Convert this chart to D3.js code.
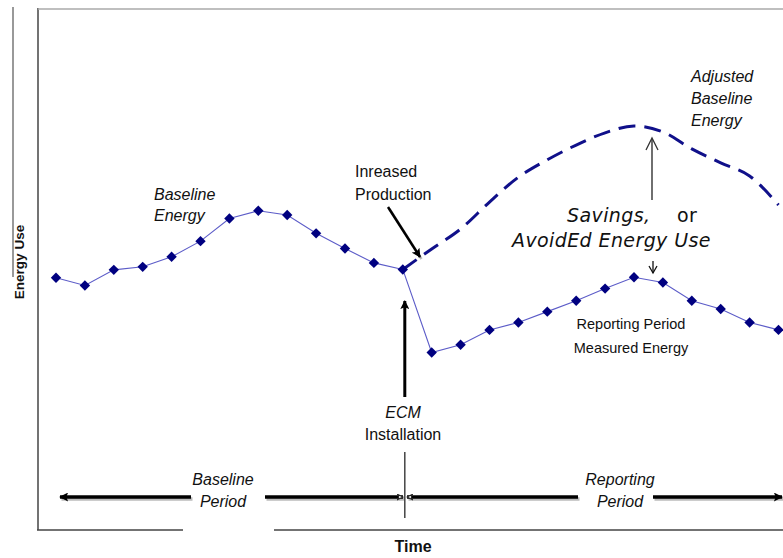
<!DOCTYPE html>
<html lang="en">
<head>
  <meta charset="UTF-8">
  <title>Baseline vs Reporting Period Energy</title>
  <script src="https://d3js.org/d3.v7.min.js"></script>
  <style>
    body { margin: 0; background: #fff; }
    text { font-family: "Liberation Sans", Arial, sans-serif; fill: #111; }
    .it { font-style: italic; }
    .dv { font-family: "DejaVu Sans", Verdana, sans-serif; font-size: 19px; letter-spacing: 0.4px; }
    .frame { stroke: #444; stroke-width: 1.5px; fill: none; }
    .measured { stroke: #5c5cc8; stroke-width: 1.1px; fill: none; }
    .adjusted { stroke: #10108a; stroke-width: 3px; fill: none; stroke-dasharray: 17,9; }
    .pt { fill: #000080; }
    .arrow { stroke: #000; fill: none; }
  </style>
</head>
<body>
  <script>
    // time steps (months) and energy use
    const baselineTime = [0, 1, 2, 3, 4, 5, 6, 7, 8, 9, 10, 11, 12];
    const baselineEnergy = [58.0, 56.2, 59.8, 60.5, 62.8, 66.4, 71.6, 73.4, 72.4, 68.2, 64.7, 61.4, 59.9];

    const reportingTime = [12, 13, 14, 15, 16, 17, 18, 19, 20, 21, 22, 23, 24, 25];
    const reportingEnergy = [59.9, 40.8, 42.6, 46.0, 47.7, 50.2, 52.7, 55.5, 58.1, 56.9, 52.7, 50.8, 47.7, 46.0];
    const adjustedEnergy = [59.9, 64.6, 69.2, 75.4, 81.1, 85.1, 88.5, 91.3, 92.9, 91.5, 87.6, 84.4, 81.4, 74.7];

    const ecmTime = 12;

    const width = 783, height = 558;

    const svg = d3.select("body").append("svg")
      .attr("width", width)
      .attr("height", height);

    const x = d3.scaleLinear().domain([0, 25]).range([56, 778.5]);
    const y = d3.scaleLinear().domain([0, 120]).range([530, 8]);

    // arrow heads
    const defs = svg.append("defs");
    defs.append("marker")
      .attr("id", "solid")
      .attr("markerUnits", "userSpaceOnUse")
      .attr("viewBox", "0 0 10 10")
      .attr("refX", 9).attr("refY", 5)
      .attr("markerWidth", 10).attr("markerHeight", 9)
      .attr("orient", "auto")
      .append("path").attr("d", "M0,0 L10,5 L0,10 L2,5 Z").attr("fill", "#000");
    defs.append("marker")
      .attr("id", "small")
      .attr("markerUnits", "userSpaceOnUse")
      .attr("viewBox", "0 0 10 10")
      .attr("refX", 9).attr("refY", 5)
      .attr("markerWidth", 7).attr("markerHeight", 7)
      .attr("orient", "auto")
      .append("path").attr("d", "M1,1 L9,5 L1,9 L3,5 Z")
      .attr("fill", "#fff").attr("stroke", "#222").attr("stroke-width", 1.5);

    // frame lines
    svg.append("line").attr("class", "frame").style("stroke", "#777")
      .attr("x1", 13).attr("x2", 13).attr("y1", 7).attr("y2", 277);
    svg.append("line").attr("class", "frame")
      .attr("x1", 38).attr("x2", 38).attr("y1", 8).attr("y2", 530);
    svg.append("line").attr("class", "frame").style("stroke", "#aaa")
      .attr("x1", 38).attr("x2", width).attr("y1", 9).attr("y2", 9);
    svg.append("line").attr("class", "frame")
      .attr("x1", 37).attr("x2", 183).attr("y1", 530).attr("y2", 530);
    svg.append("line").attr("class", "frame")
      .attr("x1", 274).attr("x2", width).attr("y1", 530).attr("y2", 530);

    // axis titles
    svg.append("text")
      .attr("transform", "translate(24,262) rotate(-90)")
      .attr("text-anchor", "middle")
      .style("font-weight", "bold").style("font-size", "13.5px")
      .text("Energy Use");
    svg.append("text")
      .attr("x", 413).attr("y", 552)
      .attr("text-anchor", "middle")
      .style("font-weight", "bold").style("font-size", "16px")
      .text("Time");

    // lines
    const line = d3.line().x(d => x(d[0])).y(d => y(d[1]));
    const curve = d3.line().x(d => x(d[0])).y(d => y(d[1])).curve(d3.curveCatmullRom);

    const baseline = baselineTime.map((t, i) => [t, baselineEnergy[i]]);
    const measured = reportingTime.map((t, i) => [t, reportingEnergy[i]]);
    const adjusted = reportingTime.map((t, i) => [t, adjustedEnergy[i]]);

    svg.append("path").datum(adjusted).attr("class", "adjusted").attr("d", curve);
    svg.append("path").datum(baseline).attr("class", "measured").attr("d", line);
    svg.append("path").datum(measured).attr("class", "measured").attr("d", line);

    const diamond = d3.symbol().type(d3.symbolSquare).size(54);
    svg.selectAll(".pt")
      .data(baseline.concat(measured.slice(1)))
      .join("path")
      .attr("class", "pt")
      .attr("d", diamond)
      .attr("transform", d => `translate(${x(d[0])},${y(d[1])}) rotate(45)`);

    // annotation arrows
    function arrow(x1, y1, x2, y2, w, marker, shadow) {
      if (shadow) {
        svg.append("line")
          .attr("x1", x1 + 1.5).attr("y1", y1 + 2).attr("x2", x2 + 1.5).attr("y2", y2 + 2)
          .attr("stroke", "#bbb").attr("stroke-width", w);
      }
      svg.append("line").attr("class", "arrow")
        .attr("x1", x1).attr("y1", y1).attr("x2", x2).attr("y2", y2)
        .attr("stroke-width", w)
        .attr("marker-end", marker ? `url(#${marker})` : null);
    }

    arrow(388, 207, 420, 257, 2.5, "solid", true);
    arrow(x(ecmTime) + 2, 397, x(ecmTime) + 2, 301, 3, "solid", false);

    // period arrows
    arrow(191, 497, 60, 497, 3.5, "solid", true);
    arrow(265, 497, 403, 497, 3.5, "small", true);
    arrow(578, 497, 407, 497, 3.5, "small", true);
    arrow(653, 497, 782, 497, 3.5, "solid", true);

    svg.append("line")
      .attr("x1", x(ecmTime) + 2).attr("x2", x(ecmTime) + 2)
      .attr("y1", 452).attr("y2", 518)
      .attr("stroke", "#444").attr("stroke-width", 1.5);

    // savings arrows (thin, open heads)
    svg.append("line").attr("x1", 652).attr("x2", 652).attr("y1", 200).attr("y2", 139)
      .attr("stroke", "#222").attr("stroke-width", 1.3);
    svg.append("path").attr("d", "M646,150 L652,138 L658,150")
      .attr("fill", "none").attr("stroke", "#333").attr("stroke-width", 1.3);
    svg.append("line").attr("x1", 653).attr("x2", 653).attr("y1", 261).attr("y2", 273)
      .attr("stroke", "#111").attr("stroke-width", 1.3);
    svg.append("path").attr("d", "M649,266 L653,273 L657,266")
      .attr("fill", "none").attr("stroke", "#111").attr("stroke-width", 1.3);

    // labels
    function label(lines, xPos, yPos, opts) {
      const t = svg.append("text")
        .attr("x", xPos).attr("y", yPos)
        .attr("text-anchor", opts.anchor || "start")
        .style("font-size", opts.size + "px")
        .attr("class", opts.cls || null);
      lines.forEach((s, i) => {
        t.append("tspan").attr("x", xPos).attr("dy", i === 0 ? 0 : opts.lh).text(s);
      });
    }

    label(["Baseline", "Energy"], 154, 200, { size: 16, lh: 21, cls: "it" });
    label(["Inreased", "Production"], 355, 177, { size: 16, lh: 23 });
    label(["Adjusted", "Baseline", "Energy"], 691, 82, { size: 16, lh: 22, cls: "it" });
    label(["Reporting Period", "Measured Energy"], 631, 329, { size: 14.5, lh: 24, anchor: "middle" });
    svg.append("text").attr("x", 403).attr("y", 418).attr("text-anchor", "middle")
      .attr("class", "it").style("font-size", "16px").text("ECM");
    svg.append("text").attr("x", 403).attr("y", 440).attr("text-anchor", "middle")
      .style("font-size", "16px").text("Installation");
    label(["Baseline", "Period"], 223, 485, { size: 16, lh: 22, cls: "it", anchor: "middle" });
    label(["Reporting", "Period"], 620, 485, { size: 16, lh: 22, cls: "it", anchor: "middle" });

    svg.append("text").attr("class", "dv").attr("x", 567).attr("y", 222)
      .style("font-style", "italic").text("Savings,");
    svg.append("text").attr("class", "dv").attr("x", 677).attr("y", 222).text("or");
    svg.append("text").attr("class", "dv").attr("x", 512).attr("y", 247)
      .style("font-style", "italic").text("AvoidEd Energy Use");
  </script>
</body>
</html>
